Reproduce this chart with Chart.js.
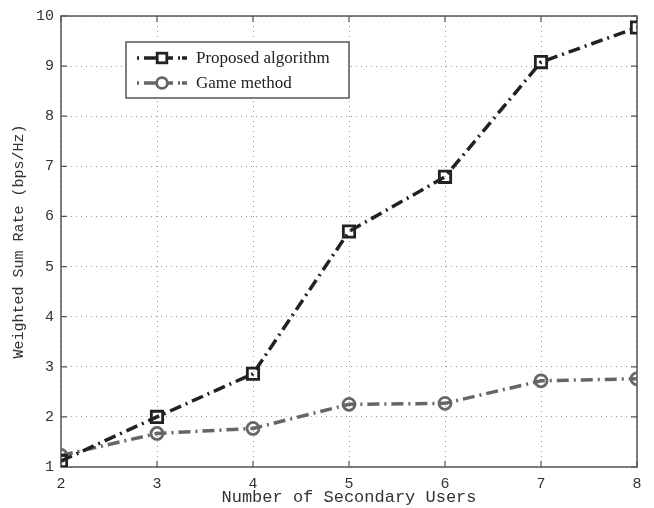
<!DOCTYPE html>
<html>
<head>
<meta charset="utf-8">
<script src="https://cdn.jsdelivr.net/npm/chart.js"></script>
<style>
  body { margin: 0; background: #fff; }
</style>
</head>
<body>
<canvas id="chart" width="654" height="508"></canvas>
<script>
// secondary users on the x axis
const users = [2, 3, 4, 5, 6, 7, 8];
const proposed = [1.12, 2.0, 2.86, 5.70, 6.79, 9.08, 9.77];
const game = [1.23, 1.67, 1.77, 2.25, 2.27, 2.72, 2.76];
const yTicks = [1, 2, 3, 4, 5, 6, 7, 8, 9, 10];

const mono = "'Liberation Mono', 'Courier New', monospace";
const tickFont = { family: mono, size: 15 };
const dashDot = [12, 5, 2, 5];

// frame plus small inward tick marks on all four sides
const framePlugin = {
  id: 'frame',
  beforeDatasetsDraw(chart) {
    const { ctx, chartArea: a, scales } = chart;
    ctx.save();
    ctx.strokeStyle = '#555';
    ctx.lineWidth = 1.5;
    ctx.setLineDash([]);
    ctx.strokeRect(a.left, a.top, a.right - a.left, a.bottom - a.top);
    ctx.lineWidth = 1.2;
    ctx.beginPath();
    users.forEach(v => {
      const x = scales.x.getPixelForValue(v);
      ctx.moveTo(x, a.bottom); ctx.lineTo(x, a.bottom - 6);
      ctx.moveTo(x, a.top); ctx.lineTo(x, a.top + 6);
    });
    yTicks.forEach(v => {
      const y = scales.y.getPixelForValue(v);
      ctx.moveTo(a.left, y); ctx.lineTo(a.left + 6, y);
      ctx.moveTo(a.right, y); ctx.lineTo(a.right - 6, y);
    });
    ctx.stroke();
    ctx.restore();
  }
};

// legend box in the upper left of the plot
const legendPlugin = {
  id: 'boxLegend',
  afterDatasetsDraw(chart) {
    const { ctx } = chart;
    const x0 = 126, y0 = 42, w = 223, h = 56;
    ctx.save();
    ctx.fillStyle = '#fff';
    ctx.fillRect(x0, y0, w, h);
    ctx.strokeStyle = '#555';
    ctx.lineWidth = 1.5;
    ctx.strokeRect(x0, y0, w, h);
    chart.data.datasets.forEach((ds, i) => {
      const y = y0 + 16 + i * 25;
      ctx.strokeStyle = ds.borderColor;
      ctx.lineWidth = ds.borderWidth;
      ctx.setLineDash([2, 5, 12, 5, 12, 5, 2]);
      ctx.beginPath();
      ctx.moveTo(137, y); ctx.lineTo(187, y);
      ctx.stroke();
      ctx.setLineDash([]);
      ctx.lineWidth = ds.pointBorderWidth;
      ctx.fillStyle = '#fff';
      const r = ds.pointRadius;
      if (ds.pointStyle === 'rect') {
        const s = r * Math.SQRT1_2 * 0.85;
        ctx.fillRect(162 - s, y - s, 2 * s, 2 * s);
        ctx.strokeRect(162 - s, y - s, 2 * s, 2 * s);
      } else {
        ctx.beginPath();
        ctx.arc(162, y, r * 0.9, 0, Math.PI * 2);
        ctx.fill();
        ctx.stroke();
      }
      ctx.fillStyle = '#222';
      ctx.font = "17px 'Liberation Serif', 'Times New Roman', serif";
      ctx.textBaseline = 'middle';
      ctx.fillText(ds.label, 196, y + 1);
    });
    ctx.restore();
  }
};

new Chart(document.getElementById('chart'), {
  type: 'line',
  data: {
    datasets: [
      {
        label: 'Proposed algorithm',
        data: users.map((u, i) => ({ x: u, y: proposed[i] })),
        borderColor: '#222',
        borderWidth: 3.5,
        borderDash: dashDot,
        pointStyle: 'rect',
        pointRadius: 8,
        pointBorderWidth: 2.8,
        pointBackgroundColor: 'rgba(255,255,255,0)',
        pointBorderColor: '#222',
        tension: 0
      },
      {
        label: 'Game method',
        data: users.map((u, i) => ({ x: u, y: game[i] })),
        borderColor: '#666',
        borderWidth: 3.5,
        borderDash: dashDot,
        pointStyle: 'circle',
        pointRadius: 6,
        pointBorderWidth: 2.8,
        pointBackgroundColor: 'rgba(255,255,255,0)',
        pointBorderColor: '#666',
        tension: 0
      }
    ]
  },
  options: {
    responsive: false,
    animation: false,
    layout: { padding: { left: 0, right: 17, top: 14, bottom: 0 } },
    plugins: { legend: { display: false }, tooltip: { enabled: false } },
    scales: {
      x: {
        type: 'linear',
        min: 2, max: 8,
        afterFit(s) { s.height = 41; },
        afterBuildTicks(s) { s.ticks = users.map(v => ({ value: v })); },
        grid: { color: '#9a9a9a', drawTicks: false, lineWidth: 1 },
        border: { display: false, dash: [1, 4] },
        ticks: { font: tickFont, color: '#333', padding: 8, maxRotation: 0 },
        title: {
          display: true,
          text: 'Number of Secondary Users',
          font: { family: mono, size: 17 },
          color: '#333',
          padding: { top: 0, bottom: 0 }
        }
      },
      y: {
        min: 1, max: 10,
        afterFit(s) { s.width = 61; },
        afterBuildTicks(s) { s.ticks = yTicks.map(v => ({ value: v })); },
        grid: { color: '#9a9a9a', drawTicks: false, lineWidth: 1 },
        border: { display: false, dash: [1, 4] },
        ticks: { font: tickFont, color: '#333', padding: 7 },
        title: {
          display: true,
          text: 'Weighted Sum Rate (bps/Hz)',
          font: { family: mono, size: 15 },
          color: '#333',
          padding: { top: 10, bottom: 0 }
        }
      }
    }
  },
  plugins: [framePlugin, legendPlugin]
});
</script>
</body>
</html>
